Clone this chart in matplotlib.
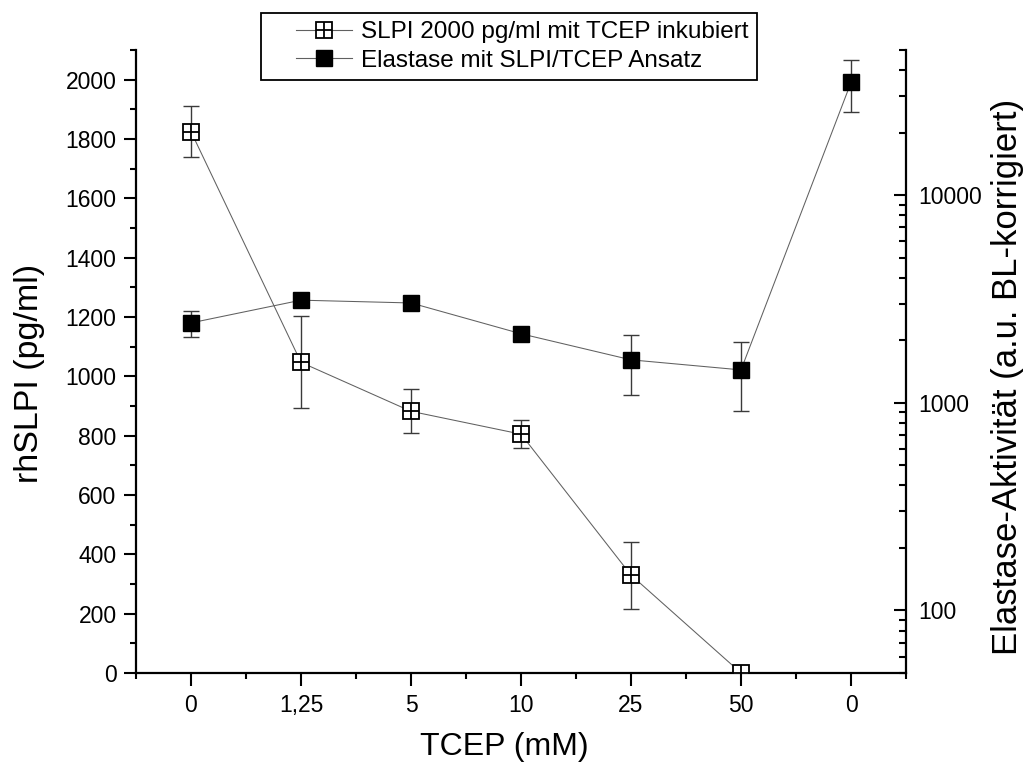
import numpy as np
import matplotlib
matplotlib.use('Agg')
import matplotlib.pyplot as plt
from matplotlib.ticker import FixedLocator, NullFormatter, LogLocator
from matplotlib.legend_handler import HandlerTuple

plt.rcParams['font.family'] = ['Liberation Sans', 'DejaVu Sans']

# data
tcep_labels = ['0', '1,25', '5', '10', '25', '50', '0']
slpi_values = [1825, 1047, 882, 805, 330, 0, np.nan]
slpi_err = [86, 155, 74, 47, 113, 0, np.nan]
elastase_values = [2425, 3120, 3025, 2150, 1610, 1440, 34900]
elastase_err = [340, 120, 120, 100, 515, 530, 9700]

x = np.arange(len(tcep_labels))

fig = plt.figure(figsize=(10.27, 7.63), dpi=100)
ax = fig.add_axes([0.1324, 0.1180, 0.7498, 0.8165])
ax2 = ax.twinx()

line_col = '#606060'
err_col = '#3a3a3a'

# SLPI, left axis
ax.plot(x, slpi_values, color=line_col, lw=0.75, zorder=1)
ax.errorbar(x, slpi_values, yerr=slpi_err, fmt='none', ecolor=err_col,
            elinewidth=1, capsize=5.5, capthick=1, zorder=2)
slpi_sq, = ax.plot(x, slpi_values, ls='none', marker='s', ms=11.5,
                   mfc='white', mec='black', mew=1.3, zorder=3)
slpi_plus, = ax.plot(x, slpi_values, ls='none', marker='+', ms=11.5,
                     mec='black', mew=1.3, zorder=4)

# Elastase, right log axis
ax2.plot(x, elastase_values, color=line_col, lw=0.75, zorder=1)
ax2.errorbar(x, elastase_values, yerr=elastase_err, fmt='none', ecolor=err_col,
             elinewidth=1, capsize=5.5, capthick=1, zorder=2)
ax2.plot(x, elastase_values, ls='none', marker='s', ms=11.5,
         mfc='black', mec='black', zorder=3)

# axes setup
ax.set_xlim(-0.5, 6.5)
ax.set_xticks(x)
ax.set_xticklabels(tcep_labels)
ax.set_xticks(np.arange(-0.5, 7, 1), minor=True)

ax.set_ylim(0, 2100)
ax.set_yticks(np.arange(0, 2001, 200))
ax.set_yticks(np.arange(0, 2101, 100), minor=True)

ax2.set_yscale('log')
ax2.set_ylim(50, 50000)
ax2.yaxis.set_major_locator(FixedLocator([100, 1000, 10000]))
ax2.set_yticklabels(['100', '1000', '10000'])
ax2.yaxis.set_minor_locator(LogLocator(base=10, subs=np.arange(2, 10)))
ax2.yaxis.set_minor_formatter(NullFormatter())

for a in (ax, ax2):
    a.spines['top'].set_visible(False)
    for s in a.spines.values():
        s.set_linewidth(1.6)
ax2.spines['left'].set_visible(False)
ax2.spines['bottom'].set_visible(False)
ax.spines['right'].set_visible(False)

ax.tick_params(axis='both', which='major', direction='out', length=9, width=1.5,
               labelsize=16.5, pad=5)
ax.tick_params(axis='both', which='minor', direction='out', length=4.5, width=1.5)
ax.tick_params(axis='x', pad=6)
ax2.tick_params(axis='y', which='major', direction='in', length=9, width=1.5,
                labelsize=16.5, pad=9)
ax2.tick_params(axis='y', which='minor', direction='in', length=5, width=1.5)

ax.set_xlabel('TCEP (mM)', fontsize=23)
ax.xaxis.set_label_coords(0.478, -0.094)
ax.set_ylabel('rhSLPI (pg/ml)', fontsize=24.5)
ax.yaxis.set_label_coords(-0.118, 0.48)
ax2.set_ylabel('Elastase-Aktivität (a.u. BL-korrigiert)', fontsize=25)
ax2.yaxis.set_label_coords(1.11, 0.475)

# legend
el_handle, = ax2.plot([], [], color=line_col, lw=0.8, marker='s', ms=11.5,
                      mfc='black', mec='black')
slpi_line, = ax.plot([], [], color=line_col, lw=0.8, marker='s', ms=11.5,
                     mfc='white', mec='black', mew=1.3)
leg = fig.legend([(slpi_line, slpi_plus), (el_handle,)],
                 ['SLPI 2000 pg/ml mit TCEP inkubiert', 'Elastase mit SLPI/TCEP Ansatz'],
                 loc='upper center', bbox_to_anchor=(0.4956, 0.983),
                 fontsize=17.5, numpoints=1, handlelength=3.4, handletextpad=0.35,
                 labelspacing=0.25, borderpad=0.35, borderaxespad=0,
                 fancybox=False, framealpha=1,
                 handler_map={tuple: HandlerTuple(ndivide=1, xpad=1.1)})
leg.get_frame().set_edgecolor('black')
leg.get_frame().set_linewidth(1.3)

fig.savefig('out.png', dpi=100)
